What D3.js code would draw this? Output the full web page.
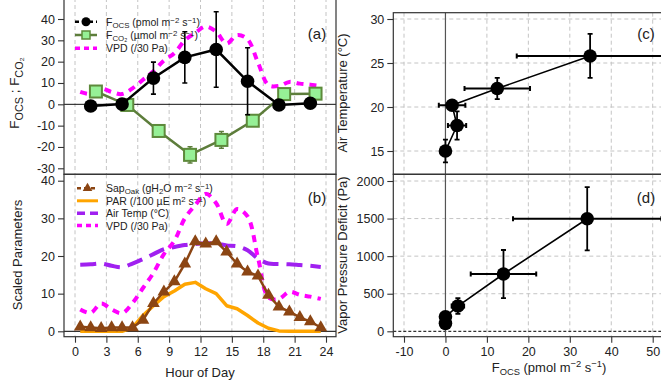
<!DOCTYPE html>
<html>
<head>
<meta charset="utf-8">
<script src="https://cdn.jsdelivr.net/npm/d3@7"></script>
<style>
body { margin: 0; background: #fff; }
svg { display: block; }
</style>
</head>
<body>
<div id="chart"></div>
<script>
// panel (a): fluxes by hour
const ocsHour = [1.5, 4.5, 7.5, 10.5, 13.5, 16.5, 19.5, 22.5];
const ocsFlux = [-0.8, 0.1, 12.3, 22.0, 25.7, 10.8, -0.3, 0.5];
const ocsErr = [0.8, 1.5, 7.5, 12.0, 17.7, 15.7, 0.8, 1.0];
const co2Hour = [2, 5, 8, 11, 14, 17, 20, 23];
const co2Flux = [6.0, -0.3, -12.5, -23.7, -16.7, -7.7, 4.8, 5.0];
const co2Err = [1.0, 0.8, 2.2, 3.8, 3.9, 2.0, 1.0, 1.0];

// panel (b): hourly scaled parameters
const hourly = [0.5, 1.5, 2.5, 3.5, 4.5, 5.5, 6.5, 7.5, 8.5, 9.5, 10.5, 11.5,
                12.5, 13.5, 14.5, 15.5, 16.5, 17.5, 18.5, 19.5, 20.5, 21.5, 22.5, 23.5];
const vpdScaled = [5.8, 4.9, 7.4, 5.8, 4.8, 7.5, 11.5, 15.5, 20.5, 24.0, 30.0, 33.5,
                   36.5, 34.0, 28.5, 32.5, 30.5, 19.5, 9.0, 8.6, 10.5, 9.7, 9.2, 8.6];
const airTemp = [17.7, 17.8, 18.0, 17.4, 17.0, 18.0, 19.2, 20.5, 21.8, 22.4, 22.9, 23.2,
                 23.4, 23.3, 22.8, 22.6, 21.5, 19.3, 18.0, 17.9, 17.8, 17.6, 17.4, 17.1];
const par = [0, 0, 0, 0, 0, 1.0, 4.2, 6.8, 9.2, 10.7, 12.5, 13.0,
             11.3, 10.0, 6.8, 6.0, 4.2, 2.2, 0.8, 0.1, 0, 0, 0, 0];
const sapOak = [1.2, 1.0, 0.8, 1.0, 1.0, 1.0, 3.0, 7.4, 10.5, 13.2, 17.9, 23.8,
                23.2, 23.8, 21.1, 17.9, 15.8, 14.7, 9.6, 6.5, 5.2, 3.7, 2.6, 1.0];

// panel (c): F_OCS vs air temperature
const tempOcs = [0.0, 2.8, 1.6, 12.5, 34.9];
const tempOcsErr = [0.5, 2.2, 3.2, 7.9, 17.7];
const tempAir = [15.0, 17.9, 20.2, 22.1, 25.8];
const tempAirErr = [1.3, 1.6, 0.5, 1.2, 2.5];

// panel (d): F_OCS vs VPD
const vpdOcs = [0.0, 0.0, 3.0, 14.0, 34.2];
const vpdOcsErr = [0.4, 0.4, 1.5, 7.9, 17.9];
const vpdPa = [106, 194, 336, 762, 1498];
const vpdPaErr = [30, 40, 105, 320, 420];

const hourTicks = [0, 3, 6, 9, 12, 15, 18, 21, 24];

const width = 661, height = 385;
const txt = "#222";
const grid = "#c4c4c4";
const plain = d => String(d);   // hyphen minus, no thousands comma
const tickFont = "12.5px";

const svg = d3.select("#chart").append("svg")
  .attr("width", width)
  .attr("height", height)
  .style("font-family", "'Liberation Sans', Arial, sans-serif");

// scales
const x = d3.scaleLinear().domain([0, 24]).range([75, 326]);
const yA = d3.scaleLinear().domain([-30, 40]).range([168.3, 19]);
const yB = d3.scaleLinear().domain([0, 40]).range([331.3, 180.7]);
const xF = d3.scaleLinear().domain([-10, 50]).range([404, 652.7]);
const yC = d3.scaleLinear().domain([15, 30]).range([151, 19]);
const yD = d3.scaleLinear().domain([0, 2000]).range([331.3, 181]);

const boxA = {x0: 64, x1: 336, y0: -2, y1: 174.3};
const boxB = {x0: 64, x1: 336, y0: 174.3, y1: 336.7};
const boxC = {x0: 393.3, x1: 663, y0: 12.7, y1: 174.3};
const boxD = {x0: 393.3, x1: 663, y0: 174.3, y1: 336.7};

// rich text helper for sub/superscripts
function rich(sel, parts, fs, ratio, sub, sup) {
  ratio = ratio || 0.72;
  sub = sub || 0.26;
  sup = sup || 0.36;
  let shift = 0;
  parts.forEach(p => {
    const target = p[1] === "sub" ? sub * fs : p[1] === "sup" ? -sup * fs : 0;
    sel.append("tspan")
      .attr("dy", target - shift)
      .style("font-size", (p[1] ? fs * ratio : fs) + "px")
      .text(p[0]);
    shift = target;
  });
}

function clip(id, b) {
  svg.append("clipPath").attr("id", id).append("rect")
    .attr("x", b.x0).attr("y", b.y0).attr("width", b.x1 - b.x0).attr("height", b.y1 - b.y0);
  return svg.append("g").attr("clip-path", `url(#${id})`);
}

function box(b) {
  svg.append("rect")
    .attr("x", b.x0).attr("y", b.y0)
    .attr("width", b.x1 - b.x0).attr("height", b.y1 - b.y0)
    .attr("fill", "none").attr("stroke", "#333").attr("stroke-width", 1.2);
}

function leftAxis(scale, ticks, xpos) {
  const g = svg.append("g")
    .attr("transform", `translate(${xpos},0)`)
    .call(d3.axisLeft(scale).tickValues(ticks).tickFormat(plain).tickSize(6).tickPadding(3));
  g.select(".domain").remove();
  g.selectAll("line").attr("stroke", "#333").attr("stroke-width", 1.1);
  g.selectAll("text").attr("fill", txt).style("font-size", tickFont)
    .style("font-family", "'Liberation Sans', Arial, sans-serif");
}

function bottomAxis(scale, ticks, ypos) {
  const g = svg.append("g")
    .attr("transform", `translate(0,${ypos})`)
    .call(d3.axisBottom(scale).tickValues(ticks).tickFormat(plain).tickSize(6).tickPadding(4));
  g.select(".domain").remove();
  g.selectAll("line").attr("stroke", "#333").attr("stroke-width", 1.1);
  g.selectAll("text").attr("fill", txt).style("font-size", tickFont)
    .style("font-family", "'Liberation Sans', Arial, sans-serif");
}

function vGrid(g, scale, ticks, b) {
  g.selectAll(null).data(ticks).enter().append("line")
    .attr("x1", d => scale(d)).attr("x2", d => scale(d))
    .attr("y1", b.y0).attr("y2", b.y1)
    .attr("stroke", grid).attr("stroke-dasharray", "4,3");
}

function hGrid(g, scale, ticks, b) {
  g.selectAll(null).data(ticks).enter().append("line")
    .attr("x1", b.x0).attr("x2", b.x1)
    .attr("y1", d => scale(d)).attr("y2", d => scale(d))
    .attr("stroke", grid).attr("stroke-dasharray", "4,3");
}

function errY(g, xs, ys, es, xsc, ysc, color, w, cap) {
  xs.forEach((v, i) => {
    const cx = xsc(v), lo = ysc(ys[i] - es[i]), hi = ysc(ys[i] + es[i]);
    g.append("line").attr("x1", cx).attr("x2", cx).attr("y1", lo).attr("y2", hi)
      .attr("stroke", color).attr("stroke-width", w);
    [lo, hi].forEach(yy => g.append("line")
      .attr("x1", cx - cap).attr("x2", cx + cap).attr("y1", yy).attr("y2", yy)
      .attr("stroke", color).attr("stroke-width", w));
  });
}

function errX(g, xs, es, ys, xsc, ysc, color, w, cap) {
  xs.forEach((v, i) => {
    const cy = ysc(ys[i]), lo = xsc(v - es[i]), hi = xsc(v + es[i]);
    g.append("line").attr("x1", lo).attr("x2", hi).attr("y1", cy).attr("y2", cy)
      .attr("stroke", color).attr("stroke-width", w);
    [lo, hi].forEach(xx => g.append("line")
      .attr("x1", xx).attr("x2", xx).attr("y1", cy - cap).attr("y2", cy + cap)
      .attr("stroke", color).attr("stroke-width", w));
  });
}

const smooth = d3.line().curve(d3.curveCatmullRom.alpha(0.5));

// ---------------- panel (a) ----------------
const gA = clip("clipA", boxA);
vGrid(gA, x, hourTicks, boxA);
gA.append("line").attr("x1", boxA.x0).attr("x2", boxA.x1)
  .attr("y1", yA(0)).attr("y2", yA(0)).attr("stroke", "#111").attr("stroke-width", 1);

gA.append("path")
  .attr("d", smooth(hourly.map((h, i) => [x(h), yA(vpdScaled[i])])))
  .attr("fill", "none").attr("stroke", "#ff00ff").attr("stroke-width", 4)
  .attr("stroke-dasharray", "7,6");

// F_CO2
gA.append("path")
  .attr("d", d3.line()(co2Hour.map((h, i) => [x(h), yA(co2Flux[i])])))
  .attr("fill", "none").attr("stroke", "#5d7d3b").attr("stroke-width", 2.5);
errY(gA, co2Hour, co2Flux, co2Err, x, yA, "#5d7d3b", 1.5, 2.5);
gA.selectAll(".sq").data(co2Hour).enter().append("rect")
  .attr("x", d => x(d) - 6).attr("y", (d, i) => yA(co2Flux[i]) - 6)
  .attr("width", 12).attr("height", 12)
  .attr("fill", "#96f096").attr("stroke", "#5d8a3b").attr("stroke-width", 2);

// F_OCS
gA.append("path")
  .attr("d", d3.line()(ocsHour.map((h, i) => [x(h), yA(ocsFlux[i])])))
  .attr("fill", "none").attr("stroke", "#000").attr("stroke-width", 2.5);
errY(gA, ocsHour, ocsFlux, ocsErr, x, yA, "#000", 1.6, 2.5);
gA.selectAll(".pt").data(ocsHour).enter().append("circle")
  .attr("cx", d => x(d)).attr("cy", (d, i) => yA(ocsFlux[i])).attr("r", 6.8)
  .attr("fill", "#000");

box(boxA);
leftAxis(yA, [-30, -20, -10, 0, 10, 20, 30, 40], 64);

// legend (a)
const lf = 10.5;
const legA = svg.append("g").style("font-size", lf + "px");
const legAy = [21.7, 35, 48.3];
legA.append("line").attr("x1", 75).attr("x2", 97).attr("y1", legAy[0]).attr("y2", legAy[0])
  .attr("stroke", "#000").attr("stroke-width", 2.5).attr("stroke-dasharray", "4,3");
legA.append("circle").attr("cx", 86).attr("cy", legAy[0]).attr("r", 4.5).attr("fill", "#000");
legA.append("line").attr("x1", 75).attr("x2", 97).attr("y1", legAy[1]).attr("y2", legAy[1])
  .attr("stroke", "#5d7d3b").attr("stroke-width", 2.5);
legA.append("rect").attr("x", 82).attr("y", legAy[1] - 4).attr("width", 8).attr("height", 8)
  .attr("fill", "#96f096").attr("stroke", "#5d8a3b").attr("stroke-width", 1.5);
legA.append("line").attr("x1", 75).attr("x2", 97).attr("y1", legAy[2]).attr("y2", legAy[2])
  .attr("stroke", "#ff00ff").attr("stroke-width", 3.5).attr("stroke-dasharray", "5,4");
rich(legA.append("text").attr("x", 106).attr("y", legAy[0] + 4).attr("fill", txt),
  [["F"], ["OCS", "sub"], [" (pmol m"], ["\u22122", "sup"], [" s"], ["\u22121", "sup"], [")"]], lf, 0.75, 0.18, 0.3);
rich(legA.append("text").attr("x", 106).attr("y", legAy[1] + 4).attr("fill", txt),
  [["F"], ["CO\u2082", "sub"], [" (\u00b5mol m"], ["\u22122", "sup"], [" s"], ["\u22121", "sup"], [")"]], lf, 0.75, 0.18, 0.3);
legA.append("text").attr("x", 106).attr("y", legAy[2] + 4).attr("fill", txt).text("VPD (/30 Pa)");

svg.append("text").attr("x", 317).attr("y", 38.5).attr("text-anchor", "middle")
  .style("font-size", "15px").attr("fill", txt).text("(a)");

const titleA = svg.append("text")
  .attr("transform", "translate(19,93) rotate(-90)")
  .attr("text-anchor", "middle").attr("fill", txt);
rich(titleA, [["F"], ["OCS", "sub"], [" ; F"], ["CO\u2082", "sub"]], 13.5, 0.8);

// ---------------- panel (b) ----------------
const gB = clip("clipB", boxB);
vGrid(gB, x, hourTicks, boxB);
gB.append("line").attr("x1", boxB.x0).attr("x2", boxB.x1)
  .attr("y1", yB(0)).attr("y2", yB(0)).attr("stroke", "#333").attr("stroke-width", 1.2);

gB.append("path")
  .attr("d", smooth(hourly.map((h, i) => [x(h), yB(airTemp[i])])))
  .attr("fill", "none").attr("stroke", "#a020f0").attr("stroke-width", 4)
  .attr("stroke-dasharray", "16,8");
gB.append("path")
  .attr("d", smooth(hourly.map((h, i) => [x(h), yB(vpdScaled[i])])))
  .attr("fill", "none").attr("stroke", "#ff00ff").attr("stroke-width", 4)
  .attr("stroke-dasharray", "7,6");
gB.append("path")
  .attr("d", d3.line()(hourly.map((h, i) => [x(h), yB(par[i])])))
  .attr("fill", "none").attr("stroke", "#ffa500").attr("stroke-width", 3.5)
  .attr("stroke-linejoin", "round");
gB.append("path")
  .attr("d", d3.line()(hourly.map((h, i) => [x(h), yB(sapOak[i])])))
  .attr("fill", "none").attr("stroke", "#8b4513").attr("stroke-width", 2.5);
gB.selectAll(".tri").data(hourly).enter().append("path")
  .attr("d", d3.symbol(d3.symbolTriangle, 70))
  .attr("transform", (d, i) => `translate(${x(d)},${yB(sapOak[i])})`)
  .attr("fill", "#8b4513");

box(boxB);
leftAxis(yB, [0, 10, 20, 30, 40], 64);
bottomAxis(x, hourTicks, boxB.y1);

const legB = svg.append("g").style("font-size", lf + "px");
const legBy = [188.3, 200.8, 213.2, 225.5];
legB.append("line").attr("x1", 77).attr("x2", 98).attr("y1", legBy[0]).attr("y2", legBy[0])
  .attr("stroke", "#8b4513").attr("stroke-width", 2.5).attr("stroke-dasharray", "4,3");
legB.append("path").attr("d", d3.symbol(d3.symbolTriangle, 40))
  .attr("transform", `translate(87.5,${legBy[0]})`).attr("fill", "#8b4513");
legB.append("line").attr("x1", 77).attr("x2", 98).attr("y1", legBy[1]).attr("y2", legBy[1])
  .attr("stroke", "#ffa500").attr("stroke-width", 3);
legB.append("line").attr("x1", 77).attr("x2", 98).attr("y1", legBy[2]).attr("y2", legBy[2])
  .attr("stroke", "#a020f0").attr("stroke-width", 3.5).attr("stroke-dasharray", "8,5");
legB.append("line").attr("x1", 77).attr("x2", 98).attr("y1", legBy[3]).attr("y2", legBy[3])
  .attr("stroke", "#ff00ff").attr("stroke-width", 3.5).attr("stroke-dasharray", "5,4");
rich(legB.append("text").attr("x", 106).attr("y", legBy[0] + 4).attr("fill", txt),
  [["Sap"], ["Oak", "sub"], [" (gH"], ["2", "sub"], ["O m"], ["\u22122", "sup"], [" s"], ["\u22121", "sup"], [")"]], lf, 0.75, 0.18, 0.3);
rich(legB.append("text").attr("x", 106).attr("y", legBy[1] + 4).attr("fill", txt),
  [["PAR (/100 \u00b5E m"], ["2", "sup"], [" s"], ["\u22121", "sup"], [")"]], lf, 0.75, 0.18, 0.3);
legB.append("text").attr("x", 106).attr("y", legBy[2] + 4).attr("fill", txt).text("Air Temp (\u00b0C)");
legB.append("text").attr("x", 106).attr("y", legBy[3] + 4).attr("fill", txt).text("VPD (/30 Pa)");

svg.append("text").attr("x", 317).attr("y", 202.5).attr("text-anchor", "middle")
  .style("font-size", "15px").attr("fill", txt).text("(b)");

svg.append("text")
  .attr("transform", "translate(22,255) rotate(-90)")
  .attr("text-anchor", "middle").attr("fill", txt).style("font-size", "13px")
  .text("Scaled Parameters");
svg.append("text").attr("x", 200).attr("y", 377).attr("text-anchor", "middle")
  .attr("fill", txt).style("font-size", "13px").text("Hour of Day");

// ---------------- panel (c) ----------------
const fTicks = [-10, 0, 10, 20, 30, 40, 50];
const gC = clip("clipC", boxC);
vGrid(gC, xF, [-10, 10, 20, 30, 40, 50], boxC);
hGrid(gC, yC, [15, 20, 25, 30], boxC);
gC.append("line").attr("x1", xF(0)).attr("x2", xF(0)).attr("y1", boxC.y0).attr("y2", boxC.y1)
  .attr("stroke", "#555").attr("stroke-width", 1.2);
gC.append("path")
  .attr("d", d3.line()(tempOcs.map((v, i) => [xF(v), yC(tempAir[i])])))
  .attr("fill", "none").attr("stroke", "#000").attr("stroke-width", 1.6);
errX(gC, tempOcs, tempOcsErr, tempAir, xF, yC, "#000", 2, 2.5);
errY(gC, tempOcs, tempAir, tempAirErr, xF, yC, "#000", 1.8, 2.5);
gC.selectAll(".pc").data(tempOcs).enter().append("circle")
  .attr("cx", d => xF(d)).attr("cy", (d, i) => yC(tempAir[i])).attr("r", 6.8).attr("fill", "#000");
box(boxC);
leftAxis(yC, [15, 20, 25, 30], boxC.x0);
svg.append("text").attr("x", 646).attr("y", 38.5).attr("text-anchor", "middle")
  .style("font-size", "15px").attr("fill", txt).text("(c)");
svg.append("text")
  .attr("transform", "translate(347,93) rotate(-90)")
  .attr("text-anchor", "middle").attr("fill", txt).style("font-size", "13px")
  .text("Air Temperature (\u00b0C)");

// ---------------- panel (d) ----------------
const gD = clip("clipD", boxD);
vGrid(gD, xF, [-10, 10, 20, 30, 40, 50], boxD);
hGrid(gD, yD, [500, 1000, 1500, 2000], boxD);
gD.append("line").attr("x1", boxD.x0).attr("x2", boxD.x1).attr("y1", yD(0)).attr("y2", yD(0))
  .attr("stroke", "#000").attr("stroke-width", 1).attr("stroke-dasharray", "3,2");
gD.append("line").attr("x1", xF(0)).attr("x2", xF(0)).attr("y1", boxD.y0).attr("y2", boxD.y1)
  .attr("stroke", "#555").attr("stroke-width", 1.2);
gD.append("path")
  .attr("d", d3.line()(vpdOcs.map((v, i) => [xF(v), yD(vpdPa[i])])))
  .attr("fill", "none").attr("stroke", "#000").attr("stroke-width", 1.6);
errX(gD, vpdOcs, vpdOcsErr, vpdPa, xF, yD, "#000", 2, 2.5);
errY(gD, vpdOcs, vpdPa, vpdPaErr, xF, yD, "#000", 1.8, 2.5);
gD.selectAll(".pd").data(vpdOcs).enter().append("circle")
  .attr("cx", d => xF(d)).attr("cy", (d, i) => yD(vpdPa[i])).attr("r", 6.8).attr("fill", "#000");
box(boxD);
leftAxis(yD, [0, 500, 1000, 1500, 2000], boxD.x0);
bottomAxis(xF, fTicks, boxD.y1);
svg.append("text").attr("x", 646).attr("y", 202.5).attr("text-anchor", "middle")
  .style("font-size", "15px").attr("fill", txt).text("(d)");
svg.append("text")
  .attr("transform", "translate(347,255) rotate(-90)")
  .attr("text-anchor", "middle").attr("fill", txt).style("font-size", "13px")
  .text("Vapor Pressure Deficit (Pa)");
rich(svg.append("text").attr("x", 549).attr("y", 371.5).attr("text-anchor", "middle").attr("fill", txt),
  [["F"], ["OCS", "sub"], [" (pmol m"], ["\u22122", "sup"], [" s"], ["\u22121", "sup"], [")"]], 13);
</script>
</body>
</html>
